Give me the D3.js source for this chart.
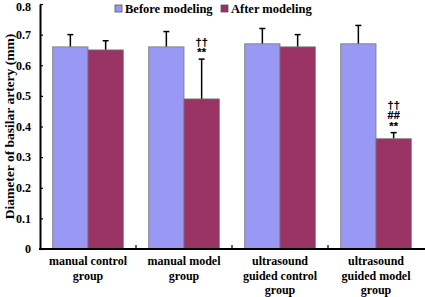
<!DOCTYPE html>
<html><head><meta charset="utf-8">
<script src="https://cdn.jsdelivr.net/npm/d3@7"></script>
<style>body{margin:0;background:#fff}svg{display:block}text{font-family:"Liberation Serif","Times New Roman",serif;font-weight:bold}</style>
</head><body>
<svg id="c" width="425" height="297"></svg>
<script>
const categories = [["manual control","group"],["manual model","group"],["ultrasound","guided control","group"],["ultrasound","guided model","group"]];
const seriesNames = ["Before modeling","After modeling"];
const before = [0.66, 0.66, 0.67, 0.67];
const beforeErr = [0.04, 0.05, 0.05, 0.06];
const after = [0.65, 0.49, 0.66, 0.36];
const afterErr = [0.03, 0.13, 0.04, 0.02];
const annotations = [[], ["††","**"], [], ["††","##","**"]];
const yTicks = [0,0.1,0.2,0.3,0.4,0.5,0.6,0.7,0.8];
const colors = ["#9999f5","#993363"];

const svg = d3.select("#c");
const m = {l:40, r:1, t:4, b:48};
const W = 425, H = 297;
const x0 = d3.scaleBand().domain(d3.range(categories.length)).range([m.l, W-m.r]).paddingInner(0).paddingOuter(0);
const x1 = d3.scaleBand().domain([0,1]).range([0, x0.bandwidth()]).paddingOuter(0.36).paddingInner(0);
const y = d3.scaleLinear().domain([0,0.8]).range([H-m.b, m.t]);

const data = categories.map((c,i)=>({i, vals:[{s:0,v:before[i],e:beforeErr[i]},{s:1,v:after[i],e:afterErr[i]}]}));

const g = svg.append("g");
const grp = g.selectAll("g.grp").data(data).join("g").attr("transform",d=>`translate(${x0(d.i)},0)`);
grp.selectAll("line.err").data(d=>d.vals).join("line")
  .attr("x1",d=>x1(d.s)+x1.bandwidth()/2).attr("x2",d=>x1(d.s)+x1.bandwidth()/2)
  .attr("y1",d=>y(d.v)).attr("y2",d=>y(d.v+d.e)).attr("stroke","#000").attr("stroke-width",1.5);
grp.selectAll("line.cap").data(d=>d.vals).join("line")
  .attr("x1",d=>x1(d.s)+x1.bandwidth()/2-3).attr("x2",d=>x1(d.s)+x1.bandwidth()/2+3)
  .attr("y1",d=>y(d.v+d.e)).attr("y2",d=>y(d.v+d.e)).attr("stroke","#000").attr("stroke-width",1.5);
grp.selectAll("rect").data(d=>d.vals).join("rect")
  .attr("x",d=>x1(d.s)).attr("width",x1.bandwidth())
  .attr("y",d=>y(d.v)).attr("height",d=>y(0)-y(d.v))
  .attr("fill",d=>colors[d.s]).attr("stroke","#777").attr("stroke-width",0.8);

const ag = svg.append("g").attr("opacity",0.999);
data.forEach(d=>{
  const a = annotations[d.i];
  if(!a.length) return;
  const cx = x0(d.i)+x1(1)+x1.bandwidth()/2;
  const top = y(d.vals[1].v+d.vals[1].e);
  a.slice().reverse().forEach((t,k)=>{
    ag.append("text").attr("x",cx).attr("y",top-3-k*10.5).attr("text-anchor","middle")
      .attr("font-size",11).style("font-family","'Liberation Sans',Arial,sans-serif").style("font-weight","bold")
      .attr("fill","#000").attr("stroke","#000").attr("stroke-width",0.2).text(t);
  });
});

const yAxis = d3.axisLeft(y).tickValues(yTicks).tickSizeInner(-3).tickSizeOuter(0).tickPadding(9)
  .tickFormat(d=>d===0?"0":d3.format(".1f")(d));
const ya = svg.append("g").attr("transform",`translate(${m.l},0)`).call(yAxis);
ya.select(".domain").attr("stroke-width",2);
ya.selectAll(".tick line").attr("stroke-width",1.2);
ya.selectAll("text").attr("font-size",12).style("font-family","'Liberation Serif',serif").style("font-weight","bold").attr("fill","#000")
  .attr("dy",d=>d===0.8?"0.5em":"0.32em");

const xa = svg.append("g").attr("transform",`translate(0,${y(0)})`);
xa.append("line").attr("x1",m.l-1).attr("x2",W).attr("stroke","#000").attr("stroke-width",2);
xa.selectAll("line.t").data(d3.range(1,categories.length)).join("line")
  .attr("x1",d=>x0(d)).attr("x2",d=>x0(d)).attr("y1",0).attr("y2",-4).attr("stroke","#000").attr("stroke-width",1.2);
categories.forEach((c,i)=>{
  const t = xa.append("text").attr("x",x0(i)+x0.bandwidth()/2).attr("y",16).attr("text-anchor","middle").attr("font-size",12);
  c.forEach((line,k)=>t.append("tspan").attr("x",x0(i)+x0.bandwidth()/2).attr("dy",k?14.5:0).text(line));
});

svg.append("text").attr("transform",`translate(14,${(m.t+H-m.b)/2}) rotate(-90)`).attr("text-anchor","middle")
  .attr("font-size",13.5).text("Diameter of basilar artery (mm)");

const lx = [115, 221];
seriesNames.forEach((s,i)=>{
  svg.append("rect").attr("x",lx[i]).attr("y",5).attr("width",7).attr("height",7).attr("fill",colors[i]).attr("stroke","#555").attr("stroke-width",0.8);
  svg.append("text").attr("x",lx[i]+10).attr("y",12.5).attr("font-size",12.5).text(s);
});
</script>
</body></html>
